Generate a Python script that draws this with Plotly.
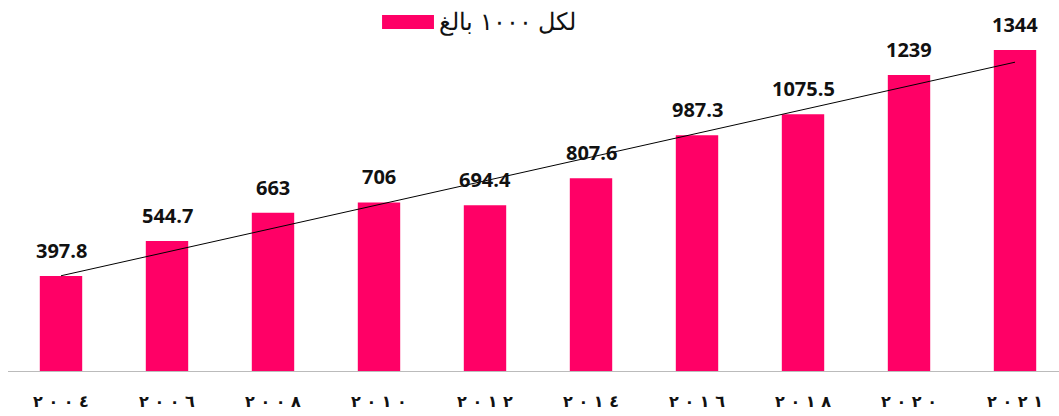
import plotly.graph_objects as go
import numpy as np

years = ["٢٠٠٤", "٢٠٠٦", "٢٠٠٨", "٢٠١٠", "٢٠١٢", "٢٠١٤", "٢٠١٦", "٢٠١٨", "٢٠٢٠", "٢٠٢١"]
values = [397.8, 544.7, 663, 706, 694.4, 807.6, 987.3, 1075.5, 1239, 1344]
labels = ["397.8", "544.7", "663", "706", "694.4", "807.6", "987.3", "1075.5", "1239", "1344"]
series_name = "لكل ١٠٠٠ بالغ"

BAR_COLOR = "#FF0066"

idx = np.arange(len(values))
slope, intercept = np.polyfit(idx, values, 1)
trend = slope * idx + intercept


def spaced(label):
    # keep left-to-right visual order of the Arabic-Indic digits while spacing them out
    return "\u202D" + " ".join(label) + "\u202C"


fig = go.Figure()
fig.add_trace(go.Bar(
    x=idx, y=values, name=series_name, width=0.4,
    marker=dict(color=BAR_COLOR, line=dict(width=0)),
    showlegend=False,
))
fig.add_trace(go.Scatter(
    x=idx, y=trend, mode="lines", line=dict(color="black", width=1),
    showlegend=False, hoverinfo="skip",
))
for i, (v, lab) in enumerate(zip(values, labels)):
    fig.add_annotation(x=i, y=v, text="<b>%s</b>" % lab, showarrow=False,
                       yanchor="bottom", yshift=10,
                       font=dict(family="Open Sans, Liberation Sans, sans-serif", size=20, color="#111"))

# manual legend (wide swatch + text)
fig.add_shape(type="rect", xref="paper", yref="paper",
              x0=0.3559, x1=0.4053, y0=1.0332, y1=1.0755,
              fillcolor=BAR_COLOR, line=dict(width=0))
fig.add_annotation(xref="paper", yref="paper", x=0.4082, y=1.0544,
                   xanchor="left", yanchor="middle", showarrow=False,
                   text=series_name,
                   font=dict(family="Liberation Sans, Arial, sans-serif", size=24, color="#111"))

fig.update_layout(
    width=1059, height=416,
    margin=dict(l=8, r=0, t=40, b=45),
    paper_bgcolor="white", plot_bgcolor="white",
    showlegend=False,
    xaxis=dict(tickmode="array", tickvals=idx, ticktext=["<b>%s</b>" % spaced(y) for y in years],
               range=[-0.5, 9.415], showgrid=False, zeroline=False,
               showline=True, linecolor="#BBBBBB", linewidth=1,
               ticks="outside", ticklen=16, tickcolor="rgba(0,0,0,0)",
               tickfont=dict(family="DejaVu Sans, sans-serif", size=16, color="#111")),
    yaxis=dict(range=[0, 1386], visible=False, showgrid=False, zeroline=False),
)
fig.write_html("out.html",
               config={"displayModeBar": False},
               post_script="document.body.style.margin='0';document.body.style.overflow='hidden';")
